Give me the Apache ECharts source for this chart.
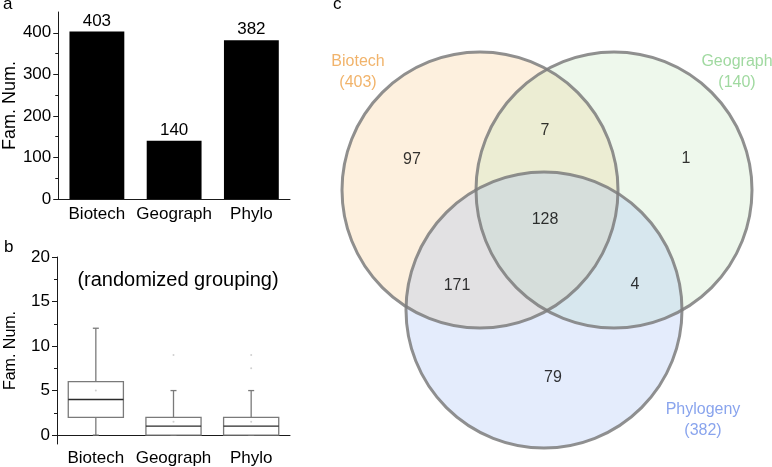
<!DOCTYPE html>
<html><head><meta charset="utf-8">
<script src="https://cdn.jsdelivr.net/npm/echarts@6/dist/echarts.min.js"></script>
<style>html,body{margin:0;padding:0;background:#fff}#c{width:772px;height:467px}</style>
</head><body><div id="c"></div>
<script>
// ---------- data ----------
const categories = ['Biotech', 'Geograph', 'Phylo'];
const famCounts = [403, 140, 382];
const barTicks = [0, 100, 200, 300, 400];
const barMinorTicks = [50, 150, 250, 350];
const boxTicks = [0, 5, 10, 15, 20];
const boxMinorTicks = [2.5, 7.5, 12.5, 17.5];
// [min, Q1, median, Q3, max] per category
const boxStats = [[0, 2, 4, 6, 12], [0, 0, 1, 2, 5], [0, 0, 1, 2, 5]];
// faint points (category index, value)
const boxDots = [[0, 5], [1, 9], [1, 1.5], [2, 9], [2, 7.5], [2, 1.5]];
const vennSets = ['Biotech', 'Geograph', 'Phylogeny'];
const vennTotals = [403, 140, 382];
// circle centre x, centre y, radius (venn units)
const vennCircles = [[180, 190, 138], [314, 190, 138], [244, 310, 138]];
const vennRegionCounts = ['97', '7', '1', '128', '171', '4', '79'];
const vennRegionPos = [[112, 160], [245, 131], [386, 159], [245, 220], [157, 286], [335, 285], [253, 378]];
const vennLabelPos = [[58, 72], [437, 72], [403, 420]];

// ---------- style ----------
const FONT = "'Liberation Sans', Arial, sans-serif";
const vennFills = ['rgba(247,195,123,0.25)', 'rgba(187,227,179,0.25)', 'rgba(147,179,243,0.25)'];
const vennTextColors = ['#eda046', '#88cf88', '#6b8de8'];
const axisColor = '#1a1a1a';

const chart = echarts.init(document.getElementById('c'), null, {renderer: 'canvas'});

function majorY(grid, min, max, ticks, name, nameSize, nameGap) {
  return {
    type: 'value', gridIndex: grid, min: min, max: max, position: 'left',
    name: name, nameLocation: 'middle', nameGap: nameGap,
    nameTextStyle: {fontFamily: FONT, fontSize: nameSize, color: '#000'},
    axisLine: {show: true, lineStyle: {color: axisColor, width: 1}},
    axisTick: {show: true, length: 5, customValues: ticks, lineStyle: {color: axisColor}},
    axisLabel: {customValues: ticks, margin: 7, fontFamily: FONT, fontSize: 17, color: '#000'},
    splitLine: {show: false}
  };
}
function minorY(grid, min, max, ticks) {
  return {
    type: 'value', gridIndex: grid, min: min, max: max, position: 'left',
    axisLine: {show: false},
    axisTick: {show: true, length: 3, customValues: ticks, lineStyle: {color: axisColor}},
    axisLabel: {show: false},
    splitLine: {show: false}
  };
}
function catX(grid, margin) {
  return {
    type: 'category', gridIndex: grid, data: categories,
    axisLine: {show: true, lineStyle: {color: axisColor, width: 1}},
    axisTick: {show: false},
    axisLabel: {interval: 0, margin: margin, fontFamily: FONT, fontSize: 17, color: '#000'},
    splitLine: {show: false}
  };
}
function txt(left, top, text, size) {
  return {type: 'text', left: left, top: top,
          style: {text: text, fontFamily: FONT, fontSize: size, fill: '#000'}};
}

const option = {
  animation: false,
  backgroundColor: '#fff',
  grid: [
    {left: 57, top: 12, width: 233, height: 187},
    {left: 57, top: 257, width: 233, height: 188},
    {left: 300, top: 0, width: 472, height: 467}
  ],
  xAxis: [
    catX(0, 7),
    catX(1, 6),
    {type: 'value', gridIndex: 2, min: 0, max: 472, show: false}
  ],
  yAxis: [
    majorY(0, 0, 450, barTicks, 'Fam. Num.', 18, 37),
    minorY(0, 0, 450, barMinorTicks),
    majorY(1, -1, 20, boxTicks, 'Fam. Num.', 16, 38),
    minorY(1, -1, 20, boxMinorTicks),
    {type: 'value', gridIndex: 2, min: 0, max: 467, inverse: true, show: false}
  ],
  graphic: [
    txt(3, -4, 'a', 17),
    txt(4, 239, 'b', 17),
    txt(333, -4, 'c', 17),
    {type: 'text', x: 178, y: 280,
     style: {text: '(randomized grouping)', fontFamily: FONT, fontSize: 20, fill: '#000',
             align: 'center', verticalAlign: 'middle'}}
  ],
  series: [
    {
      type: 'bar', xAxisIndex: 0, yAxisIndex: 0, data: famCounts, barWidth: '71%',
      itemStyle: {color: '#000'},
      label: {show: true, position: 'top', distance: 2, fontFamily: FONT, fontSize: 17, color: '#000'}
    },
    {
      type: 'custom', xAxisIndex: 1, yAxisIndex: 2, z: 2,
      data: boxStats.map((s, i) => [i].concat(s)),
      encode: {x: 0, y: [1, 2, 3, 4, 5]},
      renderItem: function (params, api) {
        const x = api.value(0);
        const p = [1, 2, 3, 4, 5].map(i => api.coord([x, api.value(i)]));
        const bw = api.size([1, 0])[0] * 0.71;
        const cx = p[0][0];
        const cap = 3;
        const st = {stroke: '#7a7a7a', lineWidth: 1.3};
        return {type: 'group', children: [
          {type: 'line', shape: {x1: cx, y1: p[3][1], x2: cx, y2: p[4][1]}, style: st},
          {type: 'line', shape: {x1: cx, y1: p[0][1], x2: cx, y2: p[1][1]}, style: st},
          {type: 'line', shape: {x1: cx - cap, y1: p[4][1], x2: cx + cap, y2: p[4][1]}, style: st},
          {type: 'line', shape: {x1: cx - cap, y1: p[0][1], x2: cx + cap, y2: p[0][1]}, style: st},
          {type: 'rect', shape: {x: cx - bw / 2, y: p[3][1], width: bw, height: p[1][1] - p[3][1]},
           style: {fill: '#fff', stroke: '#7a7a7a', lineWidth: 1.3}},
          {type: 'line', shape: {x1: cx - bw / 2, y1: p[2][1], x2: cx + bw / 2, y2: p[2][1]},
           style: {stroke: '#2a2a2a', lineWidth: 1.3}}
        ]};
      }
    },
    {
      type: 'scatter', xAxisIndex: 1, yAxisIndex: 2, z: 3, data: boxDots,
      symbolSize: 2, itemStyle: {color: '#c4c4c4'}, silent: true
    },
    {
      type: 'custom', xAxisIndex: 2, yAxisIndex: 4, z: 2, clip: false,
      data: vennCircles,
      renderItem: function (params, api) {
        const c = api.coord([api.value(0), api.value(1)]);
        const r = api.size([api.value(2), 0])[0];
        return {type: 'circle', shape: {cx: c[0], cy: c[1], r: r},
                style: {fill: vennFills[params.dataIndex], stroke: null}};
      }
    },
    {
      type: 'custom', xAxisIndex: 2, yAxisIndex: 4, z: 3, clip: false,
      data: vennCircles,
      renderItem: function (params, api) {
        const c = api.coord([api.value(0), api.value(1)]);
        const r = api.size([api.value(2), 0])[0];
        return {type: 'circle', shape: {cx: c[0], cy: c[1], r: r},
                style: {fill: null, stroke: 'rgba(125,125,125,0.85)', lineWidth: 3}};
      }
    },
    {
      type: 'scatter', xAxisIndex: 2, yAxisIndex: 4, z: 4, symbolSize: 0, silent: true,
      data: vennRegionPos.map((p, i) => ({value: p, name: vennRegionCounts[i]})),
      label: {show: true, position: 'inside', formatter: '{b}', fontFamily: FONT, fontSize: 16, color: '#000'}
    },
    {
      type: 'scatter', xAxisIndex: 2, yAxisIndex: 4, z: 4, symbolSize: 0, silent: true,
      data: vennLabelPos.map((p, i) => ({value: p, name: vennSets[i] + '\n(' + vennTotals[i] + ')',
        label: {color: vennTextColors[i]}})),
      label: {show: true, position: 'inside', formatter: '{b}', fontFamily: FONT, fontSize: 16, lineHeight: 21}
    }
  ]
};
chart.setOption(option);
</script></body></html>
